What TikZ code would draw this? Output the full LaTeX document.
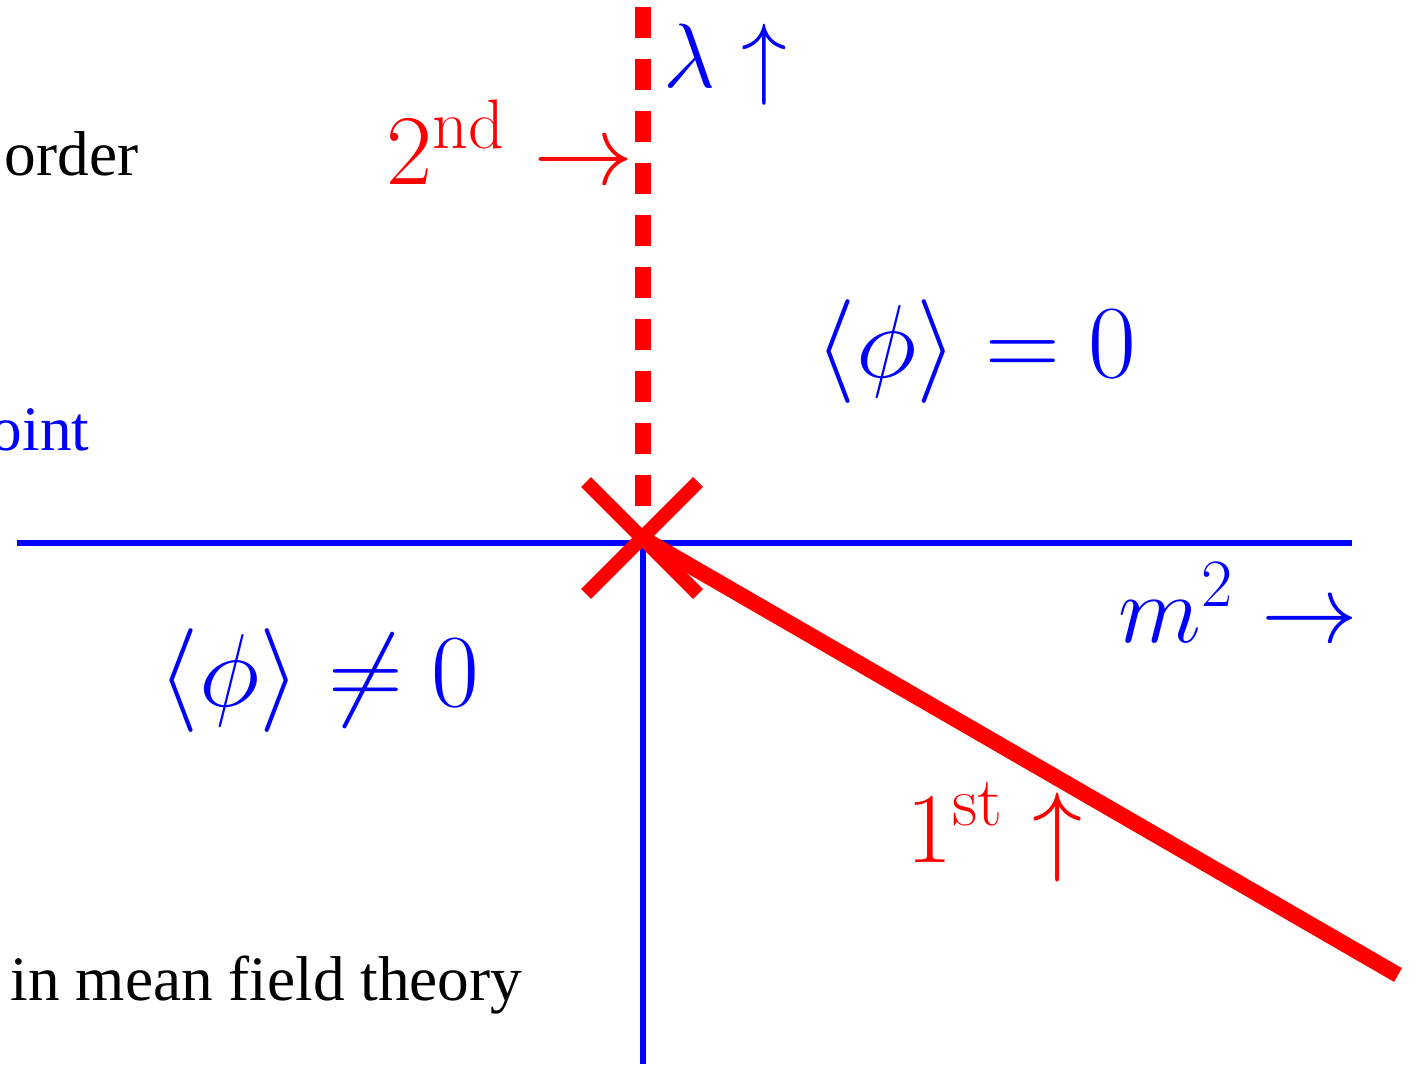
\RequirePackage{fix-cm}
\documentclass[tikz,border=0pt]{standalone}
\usepackage{fontspec}
\newfontfamily\timesfont{Liberation Serif}
\tikzset{
    axis/.style={line width=1.7pt, blue},
    label/.style={inner sep=0pt, font=\fontsize{#1}{30}\selectfont},
    label/.default=27.5,
    phase/.style={inner sep=0pt, text=blue, font=\fontsize{29.5}{32}\selectfont},
    words/.style={inner sep=0pt, font=\timesfont\fontsize{18}{20}\selectfont}
}
\begin{document}
\begin{tikzpicture}[x=0.01cm, y=-0.01cm]
    \useasboundingbox (0,0) rectangle (1416,1064);
    \coordinate (O) at (643, 543);
    \coordinate (X) at (642, 538);
    \coordinate (L) at (17, 543);
    \coordinate (R) at (1352, 543);
    \coordinate (B) at (643, 1064);
    \coordinate (T) at (643, 7);
    \coordinate (D) at (643, 506);
    \coordinate (E) at (1398, 975);
    \draw[axis] (L) -- (R);
    \draw[axis] (O) -- (B);
    \draw[line width=4.5pt, red, dash pattern=on 8.8pt off 6pt] (T) -- (D);
    \draw[line width=4.5pt, red] (X) -- (E);
    \draw[line width=4pt, red] (X) +(-56,-56) -- +(56,56);
    \draw[line width=4pt, red] (X) +(56,-56) -- +(-56,56);
    \node[label=28.5, text=red, anchor=base west] (second) at (386, 185) {$2^{\mathrm{nd}}\rightarrow$};
    \node[label=26, text=blue, anchor=base west] (lambda) at (663, 88) {$\lambda\uparrow$};
    \node[label, text=blue, anchor=base west] (mass) at (1118, 642) {$m^2\rightarrow$};
    \node[label=28.5, text=red, anchor=base west] (first) at (906, 862) {$1^{\mathrm{st}}\uparrow$};
    \node[phase, anchor=base west] (sym) at (815, 377) {$\langle\phi\rangle=0$};
    \node[phase, anchor=base west] (broken) at (158, 706) {$\langle\phi\rangle\neq0$};
    \node[words, anchor=base west] (order) at (4, 176) {order};
    \node[words, text=blue, anchor=base east] (point) at (90, 450) {oint};
    \node[words, anchor=base west] (mft) at (10, 1000) {in mean field theory};
\end{tikzpicture}
\end{document}
